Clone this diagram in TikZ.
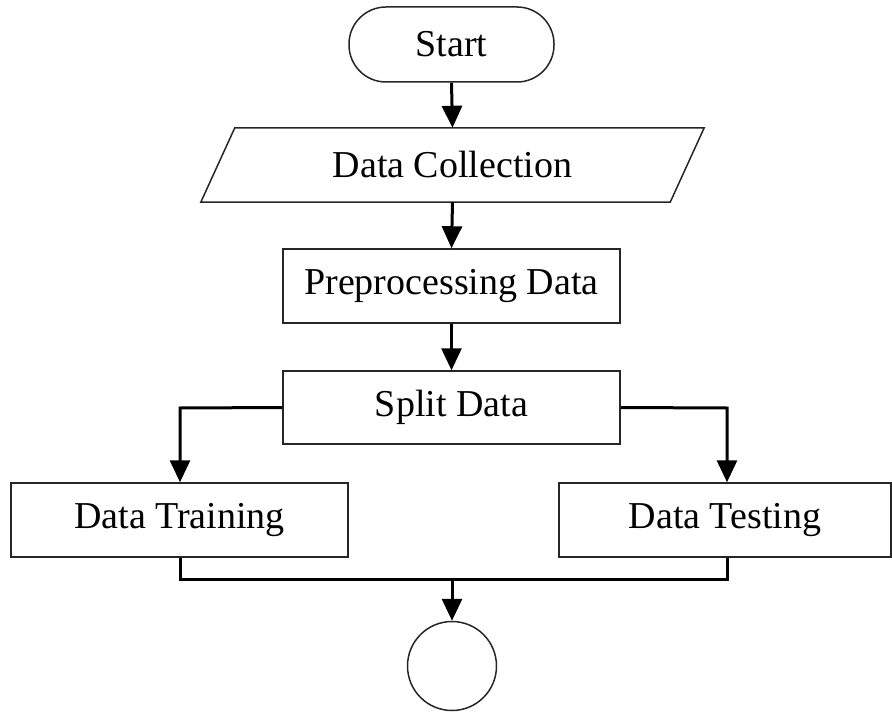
\documentclass[tikz,border=0pt]{standalone}
\usepackage{fontspec}
\setmainfont{Liberation Serif}
\usetikzlibrary{arrows.meta}
\begin{document}
\begin{tikzpicture}[x=1bp,y=-1bp,
  box/.style={draw=black!85,line width=1.5bp,inner sep=0pt,font=\fontsize{38bp}{44bp}\selectfont},
  ghost/.style={inner sep=0pt,font=\fontsize{38bp}{44bp}\selectfont},
  flow/.style={line width=3bp,-{Triangle[length=22bp,width=20bp]}},
  plain/.style={line width=3bp}]
\useasboundingbox (0,0) rectangle (892,712);
\node[box,rounded corners=37bp,minimum width=205bp,minimum height=75bp] (start) at (451.5,44.5) {Start};
\node[ghost,minimum width=469bp,minimum height=74bp] (dc) at (452.5,165) {Data Collection};
\draw[draw=black!85,line width=1.5bp] ([xshift=17bp]dc.north west) -- ([xshift=17bp]dc.north east) -- ([xshift=-17bp]dc.south east) -- ([xshift=-17bp]dc.south west) -- cycle;
\node[box,minimum width=337bp,minimum height=74bp] (pre) at (451.5,286) {Preprocessing Data};
\node[box,minimum width=337bp,minimum height=73bp] (split) at (451.5,407.5) {Split Data};
\node[box,minimum width=337bp,minimum height=74bp] (train) at (179.5,520) {Data Training};
\node[box,minimum width=332bp,minimum height=74bp] (test) at (725,520) {Data Testing};
\node[draw=black!85,line width=1.5bp,circle,minimum size=89bp,inner sep=0pt] (stop) at (452,666) {};
\coordinate (ml) at (180,408);
\coordinate (mr) at (727,408);
\coordinate (jl) at (180,579);
\coordinate (jr) at (727,579);
\coordinate (jm) at (452,579);
\draw[flow] (start.south) -- (dc.north);
\draw[flow] (dc.south) -- (pre.north);
\draw[flow] (pre.south) -- (split.north);
\draw[flow] (split.west) -- (ml) -- (ml |- train.north);
\draw[flow] (split.east) -- (mr) -- (mr |- test.north);
\draw[plain] (jl |- train.south) -- (jl) -- (jr) -- (jr |- test.south);
\draw[flow] (jm) -- (stop.north);
\end{tikzpicture}
\end{document}
